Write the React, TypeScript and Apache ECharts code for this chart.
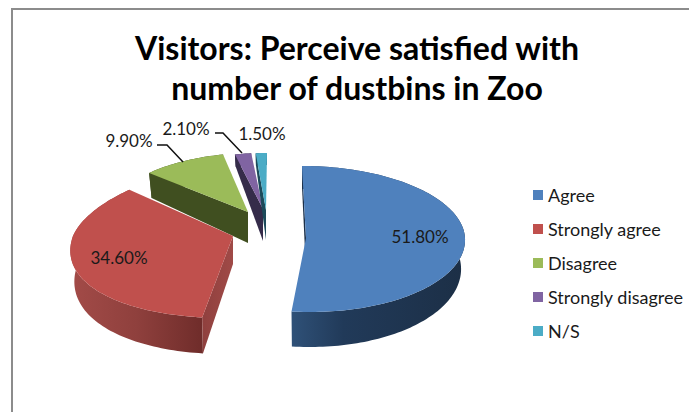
import React, { useEffect, useRef } from "react";
import * as echarts from "echarts";

const categories = ["Agree", "Strongly agree", "Disagree", "Strongly disagree", "N/S"];
const values = [51.8, 34.6, 9.9, 2.1, 1.5];
const topColors = ["#4f81bd", "#c0504d", "#9bbb59", "#8064a2", "#4bacc6"];
const titleLines = ["Visitors: Perceive satisfied with", "number of dustbins in Zoo"];
const FONT = "Lato, 'Noto Sans', sans-serif";

// Projection of each exploded slice (layout only): apex, ellipse radii, skew, wall depth
const geometry = [
  { ax: 306, ay: 238, rx: 159, tilt: 0, sk: -4, ryUp: 72, ryDown: 74, dm: 29, da: 6, d0: 34 },
  { ax: 233, ay: 236, rx: 160, tilt: -20, sk: 10, ryUp: 70, ryDown: 82, dm: 30, da: 6, d0: 28 },
  { ax: 248, ay: 212, rx: 137, tilt: 0, sk: 6, ryUp: 59, ryDown: 59, dm: 25, da: 0, d0: 31 },
  { ax: 263, ay: 209, rx: 125, tilt: 0, sk: 0, ryUp: 56, ryDown: 56, dm: 12, da: 0, d0: 32 },
  { ax: 266, ay: 210, rx: 120, tilt: 0, sk: 1, ryUp: 57, ryDown: 57, dm: 12, da: 0, d0: 30 },
];
const edgeWallFill: any[] = [
  "#1c3049",
  [[0, "#8f403e"], [1, "#a04a47"]],
  "#404f20",
  "#352c4a",
  "#1c4a5a",
];
const rimWallStops: any[] = [
  [[0, "#2f5178"], [0.3, "#213a59"], [1, "#1c2f46"]],
  [[0, "#a34b48"], [0.5, "#8f403d"], [1, "#6f2c2a"]],
  [[0, "#404f20"], [1, "#404f20"]],
  [[0, "#352c4a"], [1, "#352c4a"]],
  [[0, "#1c4a5a"], [1, "#1c4a5a"]],
];
const labelPlace = [
  { x: 420, y: 236, leader: null },
  { x: 119, y: 257, leader: null },
  { x: 129, y: 140, leader: [[157, 145], [167, 145], [183, 162]] },
  { x: 186, y: 128, leader: [[215, 133], [223, 133], [242, 153]] },
  { x: 262, y: 133, leader: null },
];

const total = values.reduce((a, b) => a + b, 0);
const starts: number[] = [];
values.reduce((acc, v, i) => {
  starts[i] = acc;
  return acc + v;
}, 0);

function rimPoint(g: any, t: number): number[] {
  const s = Math.sin(t);
  const c = Math.cos(t);
  const r = g.rx + g.tilt * c;
  return [g.ax + r * s + g.sk * c, g.ay - (c > 0 ? g.ryUp : g.ryDown) * c];
}
function lowerPoint(g: any, t: number): number[] {
  const p = rimPoint(g, t);
  const d = g.dm - g.da * Math.cos(t);
  return [g.ax + (p[0] - g.ax) * 0.975, p[1] + d];
}
function toFill(f: any) {
  if (typeof f === "string") return f;
  return new echarts.graphic.LinearGradient(
    0, 0, 1, 0,
    f.map((s: any) => ({ offset: s[0], color: s[1] })),
  );
}

function makeRenderItem(i: number) {
  return (_params: any, api: any) => {
    const v = api.value(0);
    const g = geometry[i];
    const t0 = (starts[i] / total) * Math.PI * 2;
    const t1 = ((starts[i] + v) / total) * Math.PI * 2;
    const steps = Math.max(6, Math.round((t1 - t0) * 40));
    const upper: number[][] = [];
    const lower: number[][] = [];
    for (let k = 0; k <= steps; k++) {
      const t = t0 + ((t1 - t0) * k) / steps;
      upper.push(rimPoint(g, t));
      lower.push(lowerPoint(g, t));
    }
    const apex = [g.ax, g.ay];
    const apexLow = [g.ax, g.ay + g.d0];
    const children: any[] = [
      {
        type: "polygon",
        shape: { points: upper.concat(lower.slice().reverse()) },
        style: { fill: toFill(rimWallStops[i]) },
      },
      {
        type: "polygon",
        shape: { points: [apex, apexLow, lower[0], upper[0]] },
        style: { fill: toFill(edgeWallFill[i]) },
      },
      {
        type: "polygon",
        shape: { points: [apex].concat(upper) },
        style: { fill: topColors[i] },
      },
    ];
    const place = labelPlace[i];
    if (place.leader) {
      children.push({
        type: "polyline",
        shape: { points: place.leader },
        style: { stroke: "#111", lineWidth: 1.5, fill: "none" },
      });
    }
    children.push({
      type: "text",
      style: {
        text: v.toFixed(2) + "%",
        x: place.x,
        y: place.y,
        align: "center",
        verticalAlign: "middle",
        font: `17px ${FONT}`,
        fill: "#1a1a1a",
      },
    });
    return { type: "group", children };
  };
}

const drawOrder = [2, 3, 4, 1, 0];

export default function App() {
  const ref = useRef<HTMLDivElement>(null);
  useEffect(() => {
    document.body.style.margin = "0";
    const chart = echarts.init(ref.current!, null, { renderer: "svg" });
    chart.setOption({
      animation: false,
      backgroundColor: "#ffffff",
      legend: {
        orient: "vertical",
        left: 533,
        top: 186,
        padding: 0,
        itemWidth: 10,
        itemHeight: 10,
        itemGap: 16,
        icon: "rect",
        data: categories,
        textStyle: { fontFamily: FONT, fontSize: 18, color: "#1a1a1a" },
      },
      graphic: [
        {
          type: "polyline",
          silent: true,
          shape: { points: [[12, 412], [12, 9], [689, 9]] },
          style: { stroke: "#8c8c8c", lineWidth: 2, fill: "none" },
        },
        ...titleLines.map((line, i) => ({
          type: "text",
          silent: true,
          style: {
            text: line,
            x: 357,
            y: 47 + i * 40,
            align: "center",
            verticalAlign: "middle",
            font: `bold 32px ${FONT}`,
            fill: "#000",
          },
        })),
      ],
      series: drawOrder.map((i) => ({
        type: "custom",
        name: categories[i],
        coordinateSystem: "none",
        silent: true,
        itemStyle: { color: topColors[i] },
        renderItem: makeRenderItem(i),
        data: [[values[i]]],
      })),
    });
    return () => chart.dispose();
  }, []);
  return <div ref={ref} style={{ width: 689, height: 412 }} />;
}
